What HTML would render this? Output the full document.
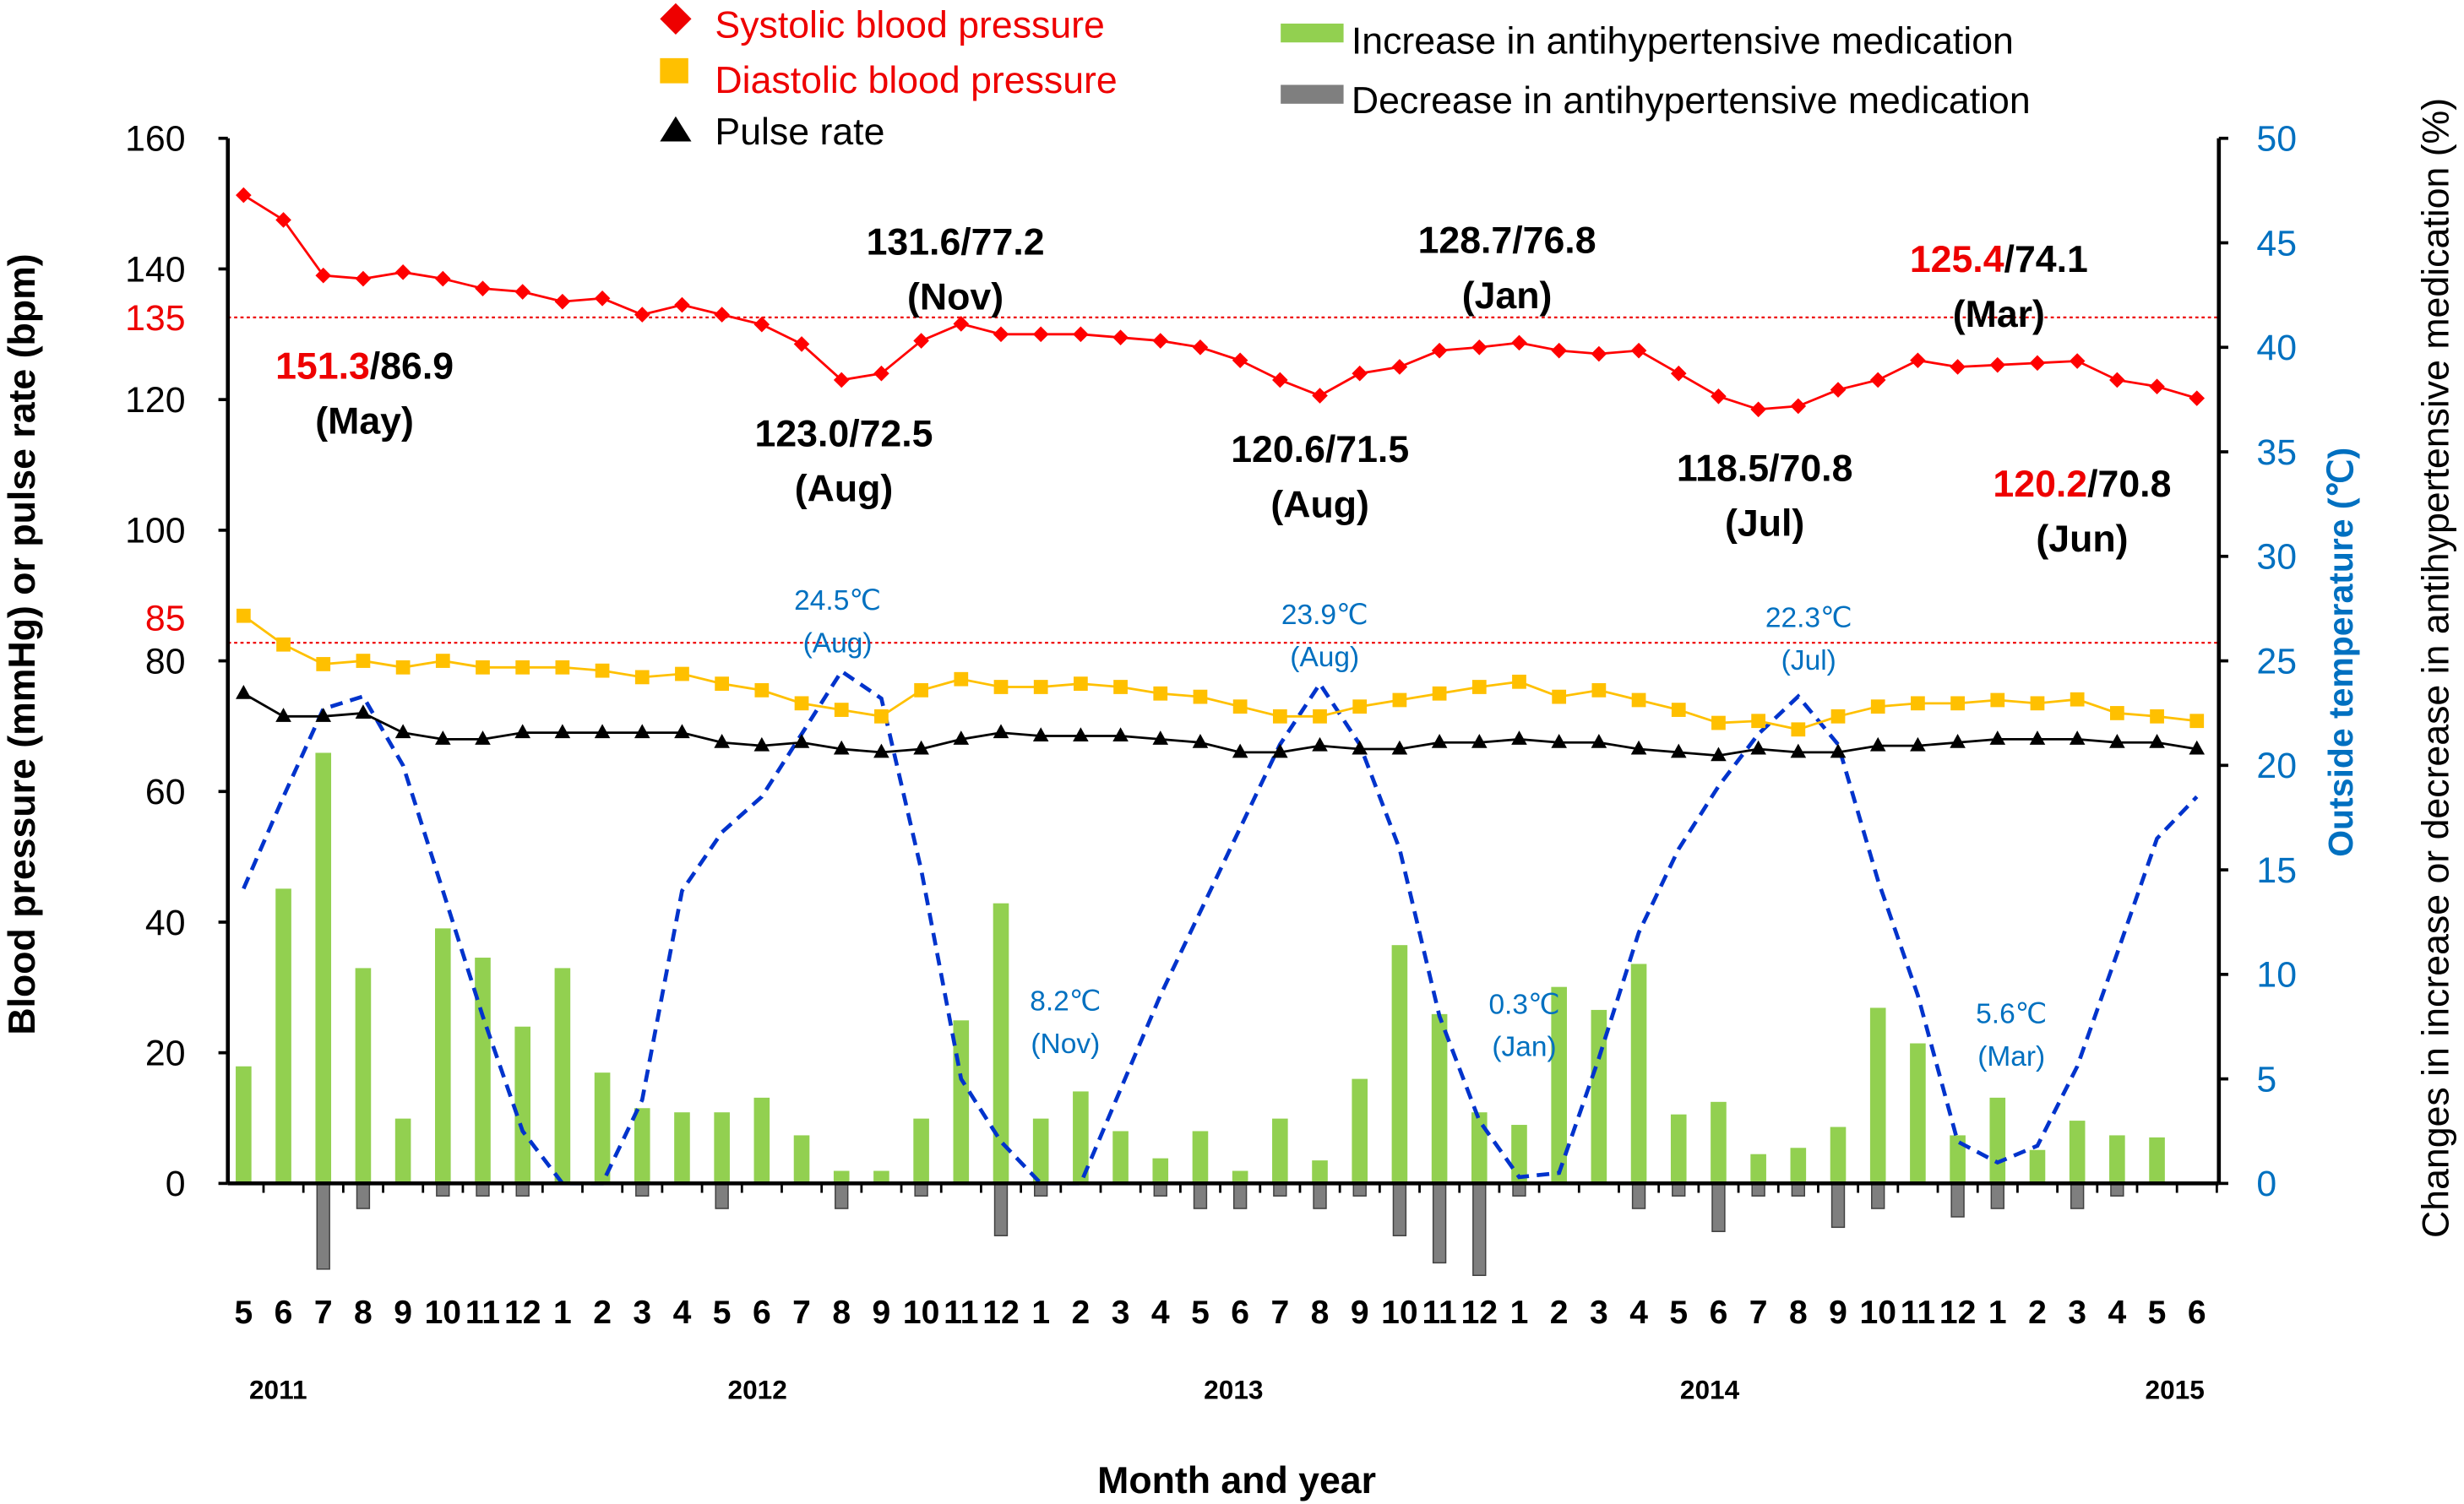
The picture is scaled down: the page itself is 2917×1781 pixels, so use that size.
<!DOCTYPE html>
<html><head><meta charset="utf-8"><style>
html,body{margin:0;padding:0;background:#fff}
svg{display:block}
text{font-family:"Liberation Sans",Arial,sans-serif}
</style></head><body>
<svg id="chart" width="2917" height="1781" viewBox="0 0 1568 957" preserveAspectRatio="none" xmlns="http://www.w3.org/2000/svg">
<g id="g"></g>
</svg>
<script>
const months=[5,6,7,8,9,10,11,12,1,2,3,4,5,6,7,8,9,10,11,12,1,2,3,4,5,6,7,8,9,10,11,12,1,2,3,4,5,6,7,8,9,10,11,12,1,2,3,4,5,6];
const systolic=[151.3,147.5,139,138.5,139.5,138.5,137,136.5,135,135.5,133,134.5,133,131.5,128.5,123.0,124,129,131.6,130,130,130,129.5,129,128,126,123,120.6,124,125,127.5,128,128.7,127.5,127,127.5,124,120.5,118.5,119,121.5,123,126,125,125.3,125.6,125.9,123,122,120.2];
const diastolic=[86.9,82.5,79.5,80,79,80,79,79,79,78.5,77.5,78,76.5,75.5,73.5,72.5,71.5,75.5,77.2,76,76,76.5,76,75,74.5,73,71.5,71.5,73,74,75,76,76.8,74.5,75.5,74,72.5,70.5,70.8,69.5,71.5,73,73.5,73.5,74,73.5,74.1,72,71.5,70.8];
const pulse=[75,71.5,71.5,72,69,68,68,69,69,69,69,69,67.5,67,67.5,66.5,66,66.5,68,69,68.5,68.5,68.5,68,67.5,66,66,67,66.5,66.5,67.5,67.5,68,67.5,67.5,66.5,66,65.5,66.5,66,66,67,67,67.5,68,68,68,67.5,67.5,66.5];
const temperature=[14.1,18.5,22.7,23.3,20,14,8,2.5,0,0,4,14,16.8,18.5,21.5,24.5,23.2,15,5,2,0,0,4.5,9,13,17,21,23.9,21,16,8,3,0.3,0.5,6,12,16,19,21.5,23.3,21,14.5,9,2,1,1.8,5.6,11,16.5,18.5];
const increase=[5.6,14.1,20.6,10.3,3.1,12.2,10.8,7.5,10.3,5.3,3.6,3.4,3.4,4.1,2.3,0.6,0.6,3.1,7.8,13.4,3.1,4.4,2.5,1.2,2.5,0.6,3.1,1.1,5,11.4,8.1,3.4,2.8,9.4,8.3,10.5,3.3,3.9,1.4,1.7,2.7,8.4,6.7,2.3,4.1,1.6,3,2.3,2.2,0];
const decrease=[0,0,4.1,1.2,0,0.6,0.6,0.6,0,0,0.6,0,1.2,0,0,1.2,0,0.6,0,2.5,0.6,0,0,0.6,1.2,1.2,0.6,1.2,0.6,2.5,3.8,4.4,0.6,0,0,1.2,0.6,2.3,0.6,0.6,2.1,1.2,0,1.6,1.2,0,1.2,0.6,0,0];
const leftTicks=[0,20,40,60,80,100,120,140,160];
const rightTicks=[0,5,10,15,20,25,30,35,40,45,50];
const years=[["2011",177],["2012",482],["2013",785],["2014",1088],["2015",1384]];

const NS="http://www.w3.org/2000/svg";
const g=document.getElementById('g');
function el(t,a,p){const e=document.createElementNS(NS,t);for(const k in a)e.setAttribute(k,a[k]);(p||g).appendChild(e);return e;}
function txt(s,x,y,a,p){const e=el('text',Object.assign({x:x,y:y},a),p);e.textContent=s;return e;}
const X=i=>155+i*(1398-155)/49;
const YL=v=>753-v*(665/160);
const YR=v=>753-v*(665/50);

// bars
months.forEach((m,i)=>{
 if(increase[i]>0){const r=el('rect',{x:X(i)-5,y:YR(increase[i]),width:10,height:YR(0)-YR(increase[i]),fill:'#92D050'});
 
 }
 if(decrease[i]>0){const r=el('rect',{x:X(i)-4,y:YR(0),width:8,height:YR(0)-YR(decrease[i]),fill:'#7f7f7f',stroke:'#404040','stroke-width':0.8});
 
 }
});
// reference lines
let rl=el('line',{x1:145,x2:1412,y1:202,y2:202,stroke:'#e00',['stroke-dasharray']:'2,2','stroke-width':1.2});

rl=el('line',{x1:145,x2:1412,y1:409,y2:409,stroke:'#e00',['stroke-dasharray']:'2,2','stroke-width':1.2});


// temperature
let tl=el('polyline',{points:temperature.map((v,i)=>X(i)+','+YR(v)).join(' '),fill:'none',stroke:'#0033CC','stroke-width':2.5,'stroke-dasharray':'8,5'});


function series(arr,color,name,marker){
 const l=el('polyline',{points:arr.map((v,i)=>X(i)+','+YL(v)).join(' '),fill:'none',stroke:color,'stroke-width':1.5});
 
 arr.forEach((v,i)=>{const x=X(i),y=YL(v);let m;
  if(marker==='d')m=el('polygon',{points:`${x},${y-5} ${x+5},${y} ${x},${y+5} ${x-5},${y}`,fill:color});
  else if(marker==='s')m=el('rect',{x:x-4.5,y:y-4.5,width:9,height:9,fill:color});
  else m=el('polygon',{points:`${x},${y-5.5} ${x+5},${y+3.5} ${x-5},${y+3.5}`,fill:color});
  });
}
series(diastolic,'#FFC000','diastolic','s');
series(pulse,'#000','pulse','t');
series(systolic,'#FF0000','systolic','d');

// axes
el('line',{x1:145,x2:145,y1:88,y2:753,stroke:'#000','stroke-width':2.5});
el('line',{x1:1412,x2:1412,y1:88,y2:753,stroke:'#000','stroke-width':2.5});
el('line',{x1:145,x2:1412,y1:753,y2:753,stroke:'#000','stroke-width':2.5});
leftTicks.forEach(v=>{el('line',{x1:139,x2:145,y1:YL(v),y2:YL(v),stroke:'#000','stroke-width':2});
 const t=txt(String(v),118,YL(v)+8,{'font-size':23,'text-anchor':'end',fill:'#000'});
 });
txt('135',118,210,{'font-size':23,'text-anchor':'end',fill:'#e00'});
txt('85',118,401,{'font-size':23,'text-anchor':'end',fill:'#e00'});
rightTicks.forEach(v=>{el('line',{x1:1412,x2:1418,y1:YR(v),y2:YR(v),stroke:'#000','stroke-width':2});
 const t=txt(String(v),1436,YR(v)+8,{'font-size':23,fill:'#0070C0'});
 });
months.forEach((m,i)=>{el('line',{x1:X(i)+12.7,x2:X(i)+12.7,y1:753,y2:759,stroke:'#000','stroke-width':1.5});
 const t=txt(String(m),X(i),842,{'font-size':21,'font-weight':'bold','text-anchor':'middle'});
 });
years.forEach(y=>{const t=txt(y[0],y[1],890,{'font-size':17,'font-weight':'bold','text-anchor':'middle'});
 });

// titles
txt('Month and year',787,950,{'font-size':24,'font-weight':'bold','text-anchor':'middle',});
txt('Blood pressure (mmHg) or pulse rate (bpm)',0,0,{'font-size':24,'font-weight':'bold','text-anchor':'middle',transform:'translate(22,410) rotate(-90)',});
txt('Outside temperature (℃)',0,0,{'font-size':22,'font-weight':'bold','text-anchor':'middle',fill:'#0070C0',transform:'translate(1497,415) rotate(-90)',});
txt('Changes in increase or decrease in antihypertensive medication (%)',0,0,{'font-size':24,'text-anchor':'middle',transform:'translate(1558,425) rotate(-90)',});

// annotations
function ann(red,black,mon,x,y){
 const t=el('text',{x:x,y:y,'font-size':24,'font-weight':'bold','text-anchor':'middle'});
 
 if(red){const s=el('tspan',{fill:'#e00'},t);s.textContent=red;}
 const b=el('tspan',{fill:'#000'},t);b.textContent=black;
 txt(mon,x,y+35,{'font-size':24,'font-weight':'bold','text-anchor':'middle'});
}
ann('151.3','/86.9','(May)',232,241);
ann('','123.0/72.5','(Aug)',537,284);
ann('','131.6/77.2','(Nov)',608,162);
ann('','120.6/71.5','(Aug)',840,294);
ann('','128.7/76.8','(Jan)',959,161);
ann('','118.5/70.8','(Jul)',1123,306);
ann('125.4','/74.1','(Mar)',1272,173);
ann('120.2','/70.8','(Jun)',1325,316);
function tann(a,b,x,y){txt(a,x,y,{'font-size':18,fill:'#0070C0','text-anchor':'middle',});
 txt(b,x,y+27,{'font-size':18,fill:'#0070C0','text-anchor':'middle'});}
tann('24.5℃','(Aug)',533,388);tann('23.9℃','(Aug)',843,397);tann('22.3℃','(Jul)',1151,399);
tann('8.2℃','(Nov)',678,643);tann('0.3℃','(Jan)',970,645);tann('5.6℃','(Mar)',1280,651);

// legend
const L=el('g',{});
el('polygon',{points:'430,2 440,12 430,22 420,12',fill:'#e00'},L);
txt('Systolic blood pressure',455,24,{'font-size':24,fill:'#e00'},L);
el('rect',{x:420,y:37,width:18,height:16,fill:'#FFC000'},L);
txt('Diastolic blood pressure',455,59,{'font-size':24,fill:'#e00'},L);
el('polygon',{points:'430,74 440,90 420,90',fill:'#000'},L);
txt('Pulse rate',455,92,{'font-size':24,fill:'#000'},L);
el('rect',{x:815,y:15,width:40,height:12,fill:'#92D050'},L);
txt('Increase in antihypertensive medication',860,34,{'font-size':24},L);
el('rect',{x:815,y:54,width:40,height:12,fill:'#7f7f7f'},L);
txt('Decrease in antihypertensive medication',860,72,{'font-size':24},L);
</script>
</body></html>
